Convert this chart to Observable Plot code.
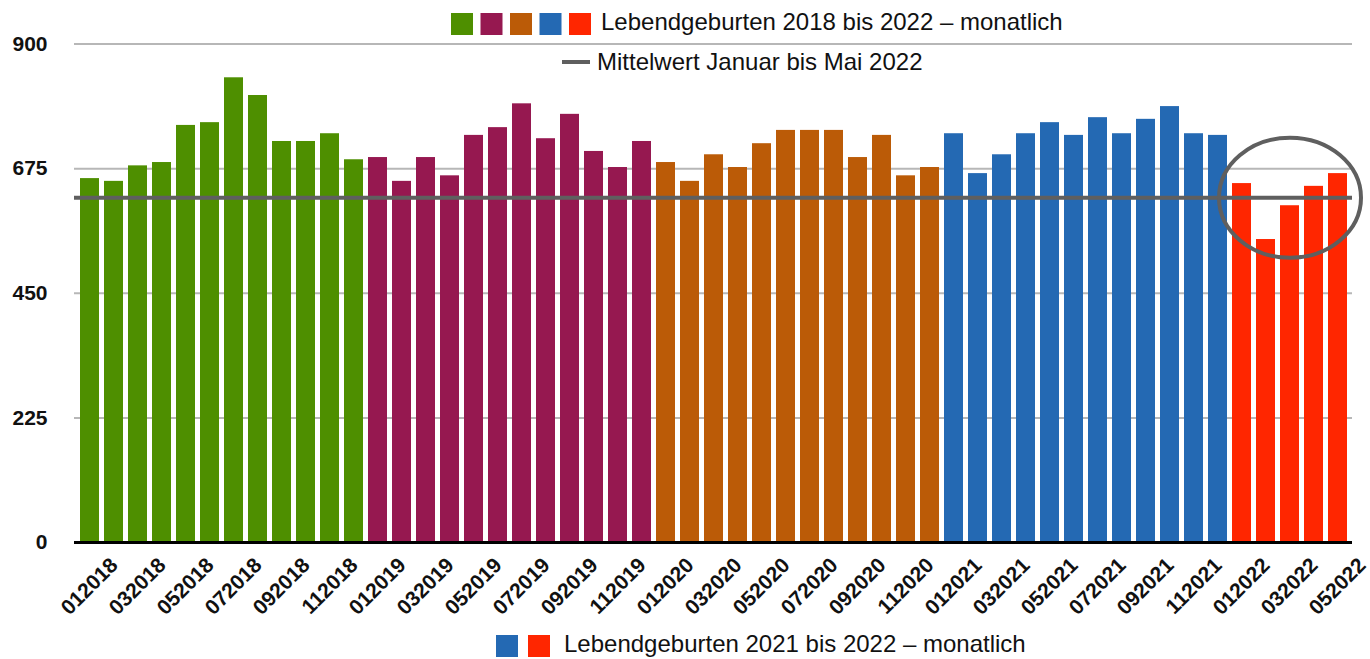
<!DOCTYPE html>
<html><head><meta charset="utf-8">
<script src="https://cdn.jsdelivr.net/npm/d3@7"></script>
<script src="https://cdn.jsdelivr.net/npm/@observablehq/plot@0.6"></script>
<style>
html,body{margin:0;padding:0;background:#fff;}
#wrap{position:relative;width:1370px;height:659px;overflow:hidden;font-family:"Liberation Sans",Arial,sans-serif;}
#wrap svg{position:absolute;left:0;top:0;}
</style></head><body><div id="wrap"></div>
<script>
// ---- data ----
const years = ["2018", "2019", "2020", "2021", "2022"];
const colors = ["#4e8f00", "#961850", "#bb5b07", "#2469b3", "#ff2600"];
const v2018 = [657, 652, 680, 686, 753, 758, 839, 807, 724, 724, 738, 691];
const v2019 = [695, 652, 695, 662, 735, 749, 792, 729, 773, 706, 677, 724];
const v2020 = [686, 652, 700, 677, 720, 744, 744, 744, 695, 735, 662, 677];
const v2021 = [738, 666, 700, 738, 758, 735, 767, 738, 764, 787, 738, 735];
const v2022 = [648, 547, 608, 643, 666];
const yTicks = [0, 225, 450, 675, 900];
const legend1 = "Lebendgeburten 2018 bis 2022 – monatlich";
const legend2 = "Mittelwert Januar bis Mai 2022";
const legend3 = "Lebendgeburten 2021 bis 2022 – monatlich";

const values = [v2018, v2019, v2020, v2021, v2022];
const data = [];
years.forEach((yr, i) => values[i].forEach((v, m) =>
  data.push({key: String(m + 1).padStart(2, "0") + yr, year: yr, value: v})));
const keys = data.map(d => d.key);
const tickKeys = keys.filter((d, i) => i % 2 === 0);
const mean2022 = d3.mean(v2022);

const font = '"Liberation Sans", Arial, sans-serif';

const ellipse = {draw(ctx, size) {
  const r = Math.sqrt(size / Math.PI), rx = r * 71 / 60, ry = r, k = 0.5522847;
  ctx.moveTo(rx, 0);
  ctx.bezierCurveTo(rx, k * ry, k * rx, ry, 0, ry);
  ctx.bezierCurveTo(-k * rx, ry, -rx, k * ry, -rx, 0);
  ctx.bezierCurveTo(-rx, -k * ry, -k * rx, -ry, 0, -ry);
  ctx.bezierCurveTo(k * rx, -ry, rx, -k * ry, rx, 0);
  ctx.closePath();
}};

const chart = Plot.plot({
  width: 1370, height: 659,
  marginLeft: 74, marginRight: 18, marginTop: 43.5, marginBottom: 117,
  style: {fontFamily: font, background: "transparent", color: "#111", fontWeight: "bold"},
  x: {type: "band", domain: keys, paddingInner: 0.21, paddingOuter: 0.15, axis: null},
  y: {domain: [0, 900], axis: null, label: null},
  color: {domain: years, range: colors},
  marks: [
    Plot.gridY(yTicks.filter(t => t > 0), {stroke: "#b7b7b7", strokeOpacity: 1, strokeWidth: 2}),
    Plot.barY(data, {x: "key", y: "value", fill: "year"}),
    Plot.ruleY([0], {stroke: "#000", strokeWidth: 3}),
    Plot.ruleY([mean2022], {stroke: "#5f5f5f", strokeWidth: 4}),
    Plot.dot([{key: "032022", value: mean2022}], {x: "key", y: "value", r: 60, symbol: ellipse, stroke: "#5f5f5f", strokeWidth: 4, fill: "none"}),
    Plot.axisY({ticks: yTicks, label: null, tickSize: 0, tickPadding: 27, fontSize: 21, fill: "#111"}),
    Plot.text(tickKeys, {x: d => d, frameAnchor: "bottom", text: d => d, rotate: -45, textAnchor: "end", lineAnchor: "bottom", dx: 29, dy: 24, fontSize: 21, fill: "#111"})
  ]
});
document.getElementById("wrap").appendChild(chart);

// ---- legends overlay ----
const ov = d3.select("#wrap").append("svg").attr("width", 1370).attr("height", 659)
  .style("pointer-events", "none").style("font-family", font);
colors.forEach((c, i) => ov.append("rect").attr("x", 451 + i * 29.5).attr("y", 13).attr("width", 22).attr("height", 22).attr("fill", c));
ov.append("text").attr("x", 601).attr("y", 30).attr("font-size", 24).attr("fill", "#111").text(legend1);
ov.append("line").attr("x1", 562).attr("x2", 590).attr("y1", 62).attr("y2", 62).attr("stroke", "#5f5f5f").attr("stroke-width", 4);
ov.append("text").attr("x", 597).attr("y", 69.5).attr("font-size", 24).attr("fill", "#111").text(legend2);
[colors[3], colors[4]].forEach((c, i) => ov.append("rect").attr("x", 496 + i * 32).attr("y", 635).attr("width", 22).attr("height", 22).attr("fill", c));
ov.append("text").attr("x", 564).attr("y", 652).attr("font-size", 24).attr("fill", "#111").text(legend3);
</script></body></html>
